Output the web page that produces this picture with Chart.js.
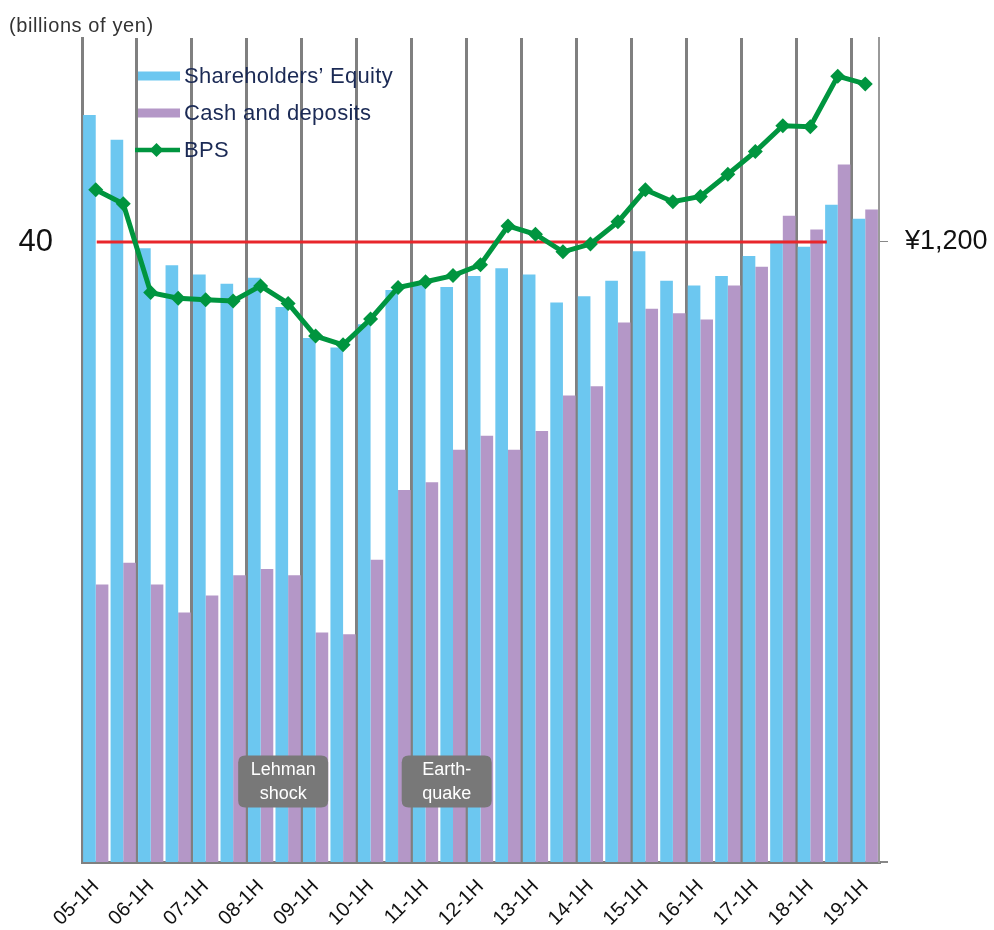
<!DOCTYPE html>
<html>
<head>
<meta charset="utf-8">
<script src="https://cdn.jsdelivr.net/npm/chart.js@4.4.1/dist/chart.umd.min.js"></script>
<style>
html,body{margin:0;padding:0;background:#ffffff;}
#wrap{position:relative;width:994px;height:930px;}
canvas{display:block;}
</style>
</head>
<body>
<div id="wrap"><canvas id="c" width="994" height="930"></canvas></div>
<script>
// ---- data ----
const periods = ['05-1H','05-2H','06-1H','06-2H','07-1H','07-2H','08-1H','08-2H','09-1H','09-2H',
  '10-1H','10-2H','11-1H','11-2H','12-1H','12-2H','13-1H','13-2H','14-1H','14-2H',
  '15-1H','15-2H','16-1H','16-2H','17-1H','17-2H','18-1H','18-2H','19-1H'];
const equity = [48.2, 46.6, 39.6, 38.5, 37.9, 37.3, 37.7, 35.8, 33.8, 33.2,
  34.7, 36.9, 37.2, 37.1, 37.8, 38.3, 37.9, 36.1, 36.5, 37.5,
  39.4, 37.5, 37.2, 37.8, 39.1, 40.1, 39.7, 42.4, 41.5];
const cash = [17.9, 19.3, 17.9, 16.1, 17.2, 18.5, 18.9, 18.5, 14.8, 14.7,
  19.5, 24.0, 24.5, 26.6, 27.5, 26.6, 27.8, 30.1, 30.7, 34.8,
  35.7, 35.4, 35.0, 37.2, 38.4, 41.7, 40.8, 45.0, 42.1];
const bps = [1301, 1274, 1102, 1091, 1088, 1086, 1115, 1081, 1018, 1001,
  1051, 1112, 1123, 1135, 1156, 1231, 1215, 1181, 1196, 1239,
  1301, 1278, 1288, 1331, 1375, 1425, 1423, 1521, 1506];
const seriesNames = ['Shareholders\u2019 Equity', 'Cash and deposits', 'BPS'];
const leftTickValues = [40];
const rightTickValues = [0, 1200];
const unitLabel = '(billions of yen)';
const eventNotes = [
  { lines: ['Lehman', 'shock'], at: 6.82 },
  { lines: ['Earth-', 'quake'], at: 12.77 }
];

// ---- styles ----
const BLUE = '#6cc7f0';
const PURPLE = '#b497c7';
const GREEN = '#00953f';
const RED = '#e8262b';
const GRID = '#808080';
const NAVY = '#1b2a55';
const SANS = '"Liberation Sans", Arial, sans-serif';
const Y_MAX = 53.16;
const Y1_MAX = Y_MAX * 30;

const refLinePlugin = {
  id: 'refLine',
  beforeDatasetDraw(chart, args) {
    if (args.meta.type !== 'line') return;
    const {ctx, scales} = chart;
    const y = scales.y.getPixelForValue(leftTickValues[0]);
    const x0 = scales.x.getPixelForValue(0) + 1;
    const x1 = scales.x.getPixelForValue(26.6);
    ctx.save();
    ctx.strokeStyle = RED;
    ctx.lineWidth = 3;
    ctx.beginPath();
    ctx.moveTo(x0, y);
    ctx.lineTo(x1, y);
    ctx.stroke();
    ctx.restore();
  }
};

function roundRect(ctx, x, y, w, h, r) {
  ctx.beginPath();
  ctx.moveTo(x + r, y);
  ctx.lineTo(x + w - r, y);
  ctx.quadraticCurveTo(x + w, y, x + w, y + r);
  ctx.lineTo(x + w, y + h - r);
  ctx.quadraticCurveTo(x + w, y + h, x + w - r, y + h);
  ctx.lineTo(x + r, y + h);
  ctx.quadraticCurveTo(x, y + h, x, y + h - r);
  ctx.lineTo(x, y + r);
  ctx.quadraticCurveTo(x, y, x + r, y);
  ctx.closePath();
}

const decorPlugin = {
  id: 'decor',
  afterDraw(chart) {
    const {ctx, scales} = chart;
    ctx.save();
    // unit label
    ctx.fillStyle = '#333333';
    ctx.font = '20px ' + SANS;
    ctx.textBaseline = 'middle';
    ctx.textAlign = 'left';
    try { ctx.letterSpacing = '0.6px'; } catch (e) {}
    ctx.fillText(unitLabel, 9, 26);

    // legend
    const lx = 138, lw = 42, tx = 184;
    const ys = [76, 113, 150];
    ctx.fillStyle = BLUE;
    ctx.fillRect(lx, ys[0] - 4.5, lw, 9);
    ctx.fillStyle = PURPLE;
    ctx.fillRect(lx, ys[1] - 4.5, lw, 9);
    ctx.strokeStyle = GREEN;
    ctx.lineWidth = 4.5;
    ctx.beginPath();
    ctx.moveTo(lx - 3, ys[2]);
    ctx.lineTo(lx + lw, ys[2]);
    ctx.stroke();
    ctx.fillStyle = GREEN;
    const dcx = 156.5, d = 7;
    ctx.beginPath();
    ctx.moveTo(dcx, ys[2] - d);
    ctx.lineTo(dcx + d, ys[2]);
    ctx.lineTo(dcx, ys[2] + d);
    ctx.lineTo(dcx - d, ys[2]);
    ctx.closePath();
    ctx.fill();
    ctx.fillStyle = NAVY;
    ctx.font = '22px ' + SANS;
    try { ctx.letterSpacing = '0.3px'; } catch (e) {}
    seriesNames.forEach((n, i) => ctx.fillText(n, tx, ys[i] + 1));

    // event notes
    try { ctx.letterSpacing = '0px'; } catch (e) {}
    const cy = scales.y.getPixelForValue(5.2);
    eventNotes.forEach(ev => {
      const cx = scales.x.getPixelForValue(ev.at);
      const w = 90, h = 52;
      ctx.fillStyle = '#787878';
      roundRect(ctx, cx - w / 2, cy - h / 2, w, h, 7);
      ctx.fill();
      ctx.fillStyle = '#ffffff';
      ctx.font = '18px ' + SANS;
      ctx.textAlign = 'center';
      ctx.textBaseline = 'middle';
      ctx.fillText(ev.lines[0], cx, cy - 11);
      ctx.fillText(ev.lines[1], cx, cy + 13);
    });
    ctx.restore();
  }
};

function noPad(s) { s.paddingTop = 0; s.paddingBottom = 0; }

new Chart(document.getElementById('c'), {
  data: {
    labels: periods,
    datasets: [
      {
        type: 'line', label: seriesNames[2], data: bps, yAxisID: 'y1', order: 0,
        borderColor: GREEN, backgroundColor: GREEN, borderWidth: 5,
        pointStyle: 'rectRot', pointRadius: 7.5, pointBackgroundColor: GREEN,
        pointBorderColor: GREEN, pointBorderWidth: 0, tension: 0
      },
      {
        type: 'bar', label: seriesNames[0], data: equity, yAxisID: 'y', order: 1,
        backgroundColor: BLUE, borderWidth: 0, categoryPercentage: 0.92, barPercentage: 1.0
      },
      {
        type: 'bar', label: seriesNames[1], data: cash, yAxisID: 'y', order: 1,
        backgroundColor: PURPLE, borderWidth: 0, categoryPercentage: 0.92, barPercentage: 1.0
      }
    ]
  },
  options: {
    responsive: false,
    animation: false,
    devicePixelRatio: 1,
    layout: { padding: { top: 38, left: 0, right: 0, bottom: 0 } },
    plugins: { legend: { display: false }, tooltip: { enabled: false } },
    scales: {
      x: {
        type: 'category',
        offset: true,
        afterFit: (s) => { s.height = 68; s.paddingLeft = 0; s.paddingRight = 0; },
        grid: {
          offset: true,
          drawTicks: false,
          color: (c) => (c.index === undefined || c.index >= periods.length) ? '#9a9a9a' : (c.index % 2 === 0 ? GRID : 'rgba(0,0,0,0)'),
          lineWidth: (c) => (c.index === undefined || c.index >= periods.length) ? 2 : 3
        },
        border: { display: true, color: GRID, width: 3 },
        ticks: {
          autoSkip: false, minRotation: 45, maxRotation: 45, padding: 13,
          color: '#111111', font: { family: SANS, size: 20 },
          callback: (v, i) => periods[i].endsWith('1H') ? periods[i] : ''
        }
      },
      y: {
        position: 'left', min: 0, max: Y_MAX,
        afterFit: (s) => { s.width = 82; noPad(s); },
        afterBuildTicks: (s) => { s.ticks = leftTickValues.map(v => ({ value: v })); },
        grid: { display: false, drawTicks: false },
        border: { display: true, color: GRID, width: 3 },
        ticks: { padding: 29, color: '#111111', font: { family: SANS, size: 31 }, callback: (v) => String(v) }
      },
      y1: {
        position: 'right', min: 0, max: Y1_MAX,
        afterFit: (s) => { s.width = 115; noPad(s); },
        afterBuildTicks: (s) => { s.ticks = rightTickValues.map(v => ({ value: v })); },
        grid: {
          drawOnChartArea: false, drawTicks: true, tickLength: 9,
          color: '#888888', lineWidth: (c) => (c.tick && c.tick.value === 0) ? 2 : 1
        },
        border: { display: true, color: '#9a9a9a', width: 2 },
        ticks: {
          padding: 17, color: '#111111', font: { family: SANS, size: 27 },
          callback: (v) => v === 0 ? '' : '\u00a5' + v.toLocaleString('en-US')
        }
      }
    }
  },
  plugins: [refLinePlugin, decorPlugin]
});
</script>
</body>
</html>
